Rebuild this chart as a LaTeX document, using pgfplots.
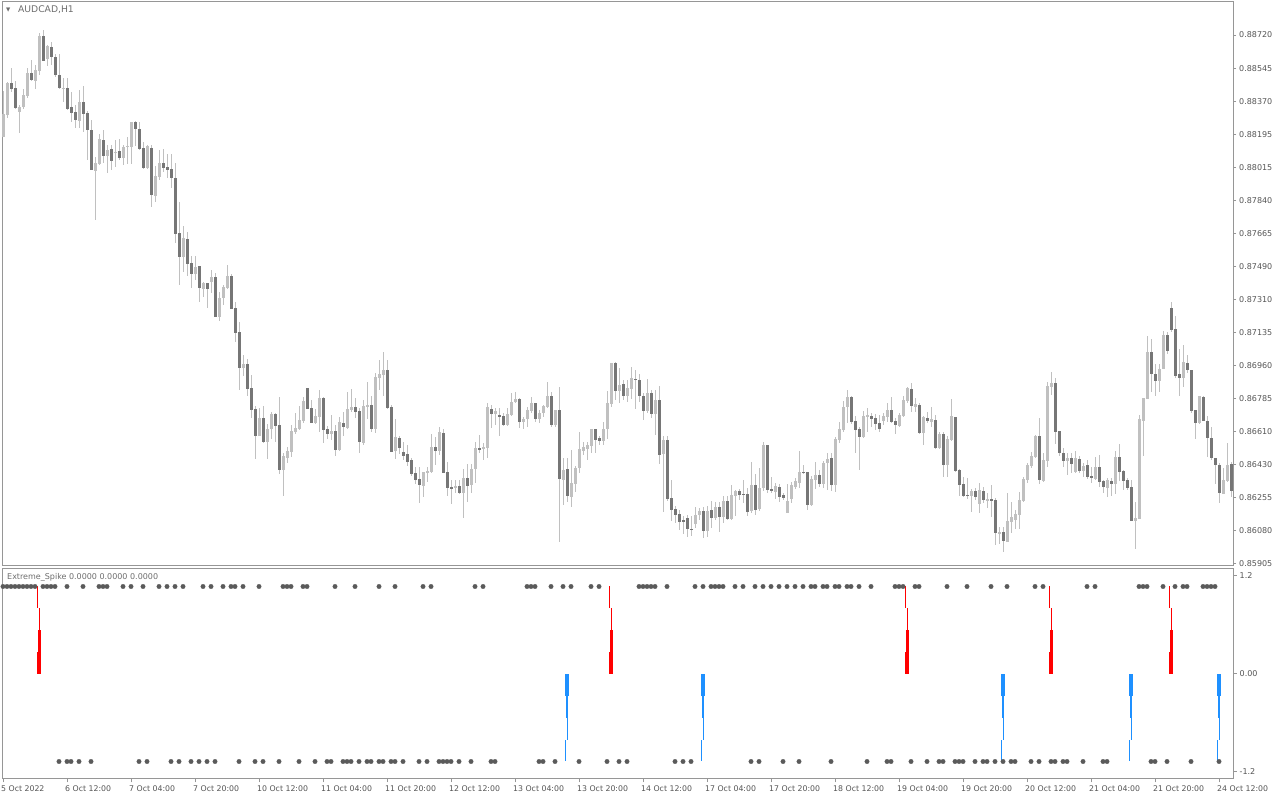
\documentclass[border=0pt]{standalone}
\usepackage{fontspec}
\setmainfont{DejaVu Sans}
\usepackage{pgfplots}
\usepackage{pgfplotstable}
\pgfplotsset{compat=1.18}

\definecolor{frame}{RGB}{150,150,150}
\definecolor{lbl}{RGB}{85,85,85}
\definecolor{ttl}{RGB}{110,110,110}
\definecolor{bull}{RGB}{192,192,192}
\definecolor{bear}{RGB}{118,118,118}
\definecolor{wick}{RGB}{192,192,192}
\definecolor{dotc}{RGB}{90,90,90}
\definecolor{spkred}{RGB}{255,0,0}
\definecolor{spkblue}{RGB}{30,144,255}

% AUDCAD H1, prices in points (1e-5)
\pgfplotstableread{
i o h l c
0 88177 88425 88177 88302
1 88297 88471 88278 88465
2 88465 88548 88416 88434
3 88440 88474 88324 88330
4 88311 88351 88201 88339
5 88339 88434 88324 88401
6 88397 88544 88383 88520
7 88520 88590 88474 88484
8 88476 88562 88434 88535
9 88529 88731 88508 88718
10 88718 88746 88581 88585
11 88590 88669 88553 88660
12 88658 88687 88562 88604
13 88604 88618 88498 88508
14 88508 88618 88434 88440
15 88436 88489 88361 88440
16 88440 88493 88321 88328
17 88337 88416 88255 88306
18 88311 88348 88227 88269
19 88264 88425 88227 88364
20 88364 88449 88205 88302
21 88306 88315 88053 88218
22 88214 88269 88003 88003
23 87999 88071 87737 88040
24 88036 88195 88031 88168
25 88162 88214 88040 88077
26 88077 88132 87988 88110
27 88113 88137 87999 88049
28 88091 88162 88021 88100
29 88104 88168 88058 88067
30 88067 88137 88031 88126
31 88123 88177 88036 88132
32 88126 88258 88036 88258
33 88258 88264 88132 88222
34 88219 88256 88110 88113
35 88119 88153 88009 88012
36 88012 88137 88009 88129
37 88119 88137 87805 87871
38 87866 88021 87834 87970
39 87967 88107 87948 88040
40 88040 88113 87994 88012
41 88018 88090 87958 88003
42 88007 88086 87908 87958
43 87958 88040 87612 87664
44 87668 87829 87392 87541
45 87541 87704 87462 87640
46 87635 87669 87435 87504
47 87508 87545 87376 87449
48 87449 87545 87416 87486
49 87491 87491 87297 87376
50 87371 87407 87325 87402
51 87402 87402 87269 87371
52 87407 87470 87346 87434
53 87434 87452 87221 87221
54 87221 87354 87200 87322
55 87319 87390 87283 87381
56 87372 87496 87367 87438
57 87438 87448 87260 87262
58 87266 87301 87088 87136
59 87140 87193 86831 86949
60 86949 87017 86905 86969
61 86969 86996 86800 86838
62 86841 86911 86683 86724
63 86730 86745 86463 86587
64 86587 86733 86586 86682
65 86682 86745 86547 86552
66 86555 86650 86463 86623
67 86623 86715 86570 86701
68 86703 86710 86555 86639
69 86644 86795 86382 86405
70 86405 86494 86266 86479
71 86470 86526 86440 86506
72 86502 86644 86476 86612
73 86609 86707 86595 86630
74 86623 86745 86618 86671
75 86666 86795 86653 86772
76 86843 86843 86728 86730
77 86733 86777 86653 86657
78 86657 86728 86650 86692
79 86689 86831 86609 86790
80 86790 86795 86547 86618
81 86623 86641 86570 86596
82 86596 86698 86564 86612
83 86612 86641 86476 86511
84 86511 86689 86507 86662
85 86657 86712 86587 86635
86 86630 86822 86623 86730
87 86724 86834 86715 86739
88 86739 86790 86680 86715
89 86719 86733 86494 86555
90 86547 86777 86538 86745
91 86742 86875 86675 86752
92 86751 86800 86609 86623
93 86623 86920 86603 86902
94 86896 86990 86831 86916
95 86911 87035 86800 86937
96 86937 86990 86728 86736
97 86742 86751 86499 86502
98 86506 86676 86461 86582
99 86577 86586 86490 86523
100 86502 86555 86458 86481
101 86490 86538 86428 86449
102 86458 86467 86374 86383
103 86390 86422 86329 86351
104 86357 86419 86227 86325
105 86321 86392 86262 86392
106 86387 86419 86342 86399
107 86396 86596 86390 86529
108 86529 86582 86431 86506
109 86507 86635 86484 86605
110 86600 86626 86387 86390
111 86394 86449 86268 86310
112 86315 86351 86222 86304
113 86310 86351 86281 86321
114 86319 86351 86276 86281
115 86281 86409 86147 86364
116 86364 86437 86236 86321
117 86325 86437 86281 86410
118 86409 86555 86334 86523
119 86523 86591 86497 86511
120 86516 86547 86458 86529
121 86523 86763 86470 86739
122 86730 86751 86630 86703
123 86703 86733 86644 86719
124 86698 86733 86586 86692
125 86692 86707 86641 86644
126 86644 86733 86639 86703
127 86698 86813 86689 86767
128 86767 86822 86760 86783
129 86783 86786 86630 86662
130 86662 86686 86621 86678
131 86675 86742 86635 86724
132 86720 86795 86707 86763
133 86763 86763 86662 86678
134 86676 86724 86653 86710
135 86707 86751 86687 86745
136 86742 86875 86736 86799
137 86799 86822 86632 86644
138 86644 86724 86635 86724
139 86724 86848 86023 86357
140 86351 86467 86218 86405
141 86410 86467 86236 86268
142 86262 86511 86209 86334
143 86329 86426 86289 86415
144 86415 86609 86387 86516
145 86505 86555 86484 86526
146 86516 86555 86458 86538
147 86532 86623 86497 86623
148 86623 86623 86497 86564
149 86577 86586 86538 86561
150 86559 86662 86538 86623
151 86623 86827 86570 86760
152 86756 86976 86739 86976
153 86976 86981 86777 86825
154 86825 86946 86760 86857
155 86862 86884 86777 86800
156 86800 86884 86765 86840
157 86836 86955 86783 86893
158 86889 86937 86730 86885
159 86884 86916 86768 86795
160 86800 86813 86671 86719
161 86719 86889 86710 86813
162 86816 86831 86683 86703
163 86703 86831 86591 86777
164 86777 86852 86437 86484
165 86490 86586 86183 86564
166 86564 86586 86241 86249
167 86254 86351 86135 86192
168 86197 86214 86124 86165
169 86170 86192 86085 86129
170 86138 86160 86064 86126
171 86147 86165 86050 86091
172 86091 86160 86054 86087
173 86117 86206 86094 86165
174 86163 86203 86138 86187
175 86187 86209 86041 86080
176 86080 86213 86050 86187
177 86192 86240 86094 86151
178 86151 86236 86138 86209
179 86209 86236 86076 86153
180 86156 86268 86124 86240
181 86240 86268 86138 86144
182 86144 86325 86138 86272
183 86268 86298 86160 86293
184 86293 86304 86245 86272
185 86279 86351 86231 86274
186 86277 86310 86160 86181
187 86187 86446 86175 86325
188 86325 86383 86165 86192
189 86197 86415 86188 86310
190 86310 86552 86294 86538
191 86538 86538 86281 86298
192 86304 86369 86281 86293
193 86289 86334 86250 86320
194 86316 86330 86233 86262
195 86268 86281 86245 86257
196 86176 86330 86176 86240
197 86250 86342 86227 86325
198 86316 86361 86304 86346
199 86337 86506 86307 86396
200 86396 86431 86383 86389
201 86396 86396 86192 86218
202 86218 86374 86213 86357
203 86351 86446 86307 86378
204 86378 86405 86316 86330
205 86330 86454 86307 86444
206 86441 86497 86298 86463
207 86470 86494 86293 86325
208 86325 86582 86289 86570
209 86564 86662 86547 86623
210 86618 86773 86609 86739
211 86739 86831 86657 86795
212 86795 86800 86648 86662
213 86666 86692 86494 86621
214 86623 86635 86405 86582
215 86582 86720 86573 86692
216 86689 86733 86609 86698
217 86692 86707 86635 86676
218 86680 86703 86618 86650
219 86653 86698 86609 86623
220 86666 86707 86644 86692
221 86687 86763 86662 86724
222 86724 86795 86653 86662
223 86666 86683 86596 86644
224 86641 86707 86632 86698
225 86692 86800 86685 86777
226 86772 86848 86763 86840
227 86836 86870 86715 86747
228 86742 86786 86715 86756
229 86751 86763 86596 86603
230 86603 86692 86538 86685
231 86685 86715 86653 86666
232 86662 86739 86635 86676
233 86671 86698 86516 86520
234 86520 86605 86515 86596
235 86596 86605 86369 86431
236 86431 86586 86369 86570
237 86564 86783 86561 86692
238 86685 86689 86396 86399
239 86405 86409 86268 86325
240 86330 86369 86262 86268
241 86272 86364 86250 86268
242 86268 86302 86180 86293
243 86293 86307 86245 86262
244 86222 86334 86175 86298
245 86293 86316 86231 86245
246 86245 86281 86201 86250
247 86250 86325 86156 86245
248 86248 86254 86006 86068
249 86064 86103 86011 86076
250 86076 86103 85970 86028
251 86023 86281 86020 86133
252 86126 86236 86067 86156
253 86142 86192 86091 86169
254 86163 86286 86089 86245
255 86241 86369 86233 86357
256 86351 86444 86337 86431
257 86428 86499 86414 86481
258 86476 86591 86467 86586
259 86586 86680 86330 86351
260 86347 86494 86342 86458
261 86454 86875 86422 86852
262 86848 86928 86804 86866
263 86866 86893 86543 86609
264 86612 86612 86481 86494
265 86497 86520 86422 86454
266 86454 86497 86378 86470
267 86467 86497 86387 86435
268 86396 86506 86387 86467
269 86463 86479 86390 86399
270 86399 86441 86369 86428
271 86431 86458 86356 86369
272 86372 86422 86334 86364
273 86357 86476 86351 86422
274 86422 86484 86316 86342
275 86346 86351 86281 86316
276 86310 86361 86259 86351
277 86346 86361 86268 86330
278 86329 86506 86277 86476
279 86476 86543 86348 86396
280 86399 86405 86298 86348
281 86351 86361 86298 86310
282 86316 86351 86135 86135
283 86135 86236 85982 86151
284 86142 86698 86142 86676
285 86667 86790 86481 86790
286 86783 87120 86783 87035
287 87035 87102 86822 86914
288 86916 86969 86800 86880
289 86880 86969 86822 86943
290 86943 87146 86943 87124
291 87124 87141 87022 87040
292 87269 87298 87141 87150
293 87156 87224 86893 86905
294 86916 87047 86800 86893
295 86893 87070 86845 86981
296 86976 87017 86923 86937
297 86937 86937 86710 86720
298 86724 86724 86573 86653
299 86653 86799 86650 86799
300 86795 86799 86667 86667
301 86667 86692 86476 86573
302 86573 86635 86458 86467
303 86467 86467 86329 86431
304 86431 86441 86230 86281
305 86277 86414 86277 86351
306 86347 86547 86342 86431
307 86437 86446 86262 86293
}\candles

% spike bars: v = +1 up (red), -1 down (blue)
\pgfplotstableread{
i v
9 1
152 1
226 1
262 1
292 1
}\redsp

\pgfplotstableread{
i v
141 -1
175 -1
250 -1
282 -1
304 -1
}\bluesp

\pgfplotsset{
  seg/.style 2 args={draw=none, mark=none, forget plot,
    error bars/.cd, y dir=both, y explicit, error mark=none,
    error bar style={draw=#1, line width=#2}},
  lblfont/.style={font=\fontsize{8bp}{9bp}\selectfont, text=lbl},
}

\begin{document}
\begin{tikzpicture}
\fill[white] (0bp,0bp) rectangle (1280bp,800bp);

% price panel
\begin{axis}[
  at={(2bp,234bp)}, anchor=south west, scale only axis,
  width=1231bp, height=564bp,
  xmin=-0.25, xmax=307.5, ymin=85893, ymax=88896,
  axis line style={draw=frame, line width=1bp},
  xtick=\empty,
  ytick={88720,88544.06,88368.12,88192.19,88016.25,87840.31,87664.37,87488.44,87312.5,87136.56,86960.62,86784.69,86608.75,86432.81,86256.87,86080.94,85905},
  yticklabels={0.88720,0.88545,0.88370,0.88195,0.88015,0.87840,0.87665,0.87490,0.87310,0.87135,0.86960,0.86785,0.86610,0.86430,0.86255,0.86080,0.85905},
  ytick pos=right, tick align=outside, major tick length=3bp,
  tick style={draw=frame, line width=1bp},
  yticklabel style={lblfont, anchor=west, inner sep=0pt, xshift=3bp},
]
\addplot[seg={wick}{1bp}] table[x=i, y expr={(\thisrow{h}+\thisrow{l})/2},
  y error expr={(\thisrow{h}-\thisrow{l})/2}] {\candles};
\addplot[restrict y to domain=80000:95000, seg={bull}{3bp}] table[x=i,
  y expr={\thisrow{c}<\thisrow{o} ? 0 : (\thisrow{o}+\thisrow{c})/2},
  y error expr={max(abs(\thisrow{c}-\thisrow{o})/2,2.7)}] {\candles};
\addplot[restrict y to domain=80000:95000, seg={bear}{3bp}] table[x=i,
  y expr={\thisrow{c}<\thisrow{o} ? (\thisrow{o}+\thisrow{c})/2 : 0},
  y error expr={max(abs(\thisrow{c}-\thisrow{o})/2,2.7)}] {\candles};
\end{axis}

% indicator panel
\begin{axis}[
  at={(2bp,21bp)}, anchor=south west, scale only axis,
  width=1231bp, height=210bp,
  xmin=-0.25, xmax=307.5, ymin=-1.2, ymax=1.2,
  axis line style={draw=frame, line width=1bp},
  xtick={0,16,...,304},
  xticklabels={5 Oct 2022,6 Oct 12:00,7 Oct 04:00,7 Oct 20:00,10 Oct 12:00,11 Oct 04:00,11 Oct 20:00,12 Oct 12:00,13 Oct 04:00,13 Oct 20:00,14 Oct 12:00,17 Oct 04:00,17 Oct 20:00,18 Oct 12:00,19 Oct 04:00,19 Oct 20:00,20 Oct 12:00,21 Oct 04:00,21 Oct 20:00,24 Oct 12:00},
  ytick={-1.12,0,1.12}, yticklabels={-1.2,0.00,1.2},
  xtick pos=lower, ytick pos=right, tick align=outside,
  major tick length=3.5bp,
  tick style={draw=frame, line width=1bp},
  yticklabel style={lblfont, anchor=west, inner sep=0pt, xshift=3bp},
  xticklabel style={font=\fontsize{7.8bp}{9bp}\selectfont, text=lbl, anchor=north west, inner sep=0pt, xshift=-2bp, yshift=-3bp},
]
\addplot[only marks, mark=*, mark size=2.2bp, color=dotc, forget plot] coordinates {
(0,1)(1,1)(2,1)(3,1)(4,1)(5,1)(6,1)(7,1)(8,1)(10,1)(11,1)(12,1)(13,1)
(16,1)(20,1)(24,1)(25,1)(26,1)(30,1)(32,1)(35,1)(39,1)(41,1)(43,1)(45,1)
(50,1)(52,1)(55,1)(57,1)(58,1)(60,1)(64,1)(70,1)(71,1)(72,1)(75,1)(76,1)
(83,1)(88,1)(94,1)(98,1)(105,1)(107,1)(118,1)(120,1)(131,1)(132,1)(133,1)
(137,1)(140,1)(142,1)(147,1)(149,1)(159,1)(160,1)(161,1)(162,1)(163,1)
(166,1)(173,1)(175,1)(177,1)(178,1)(179,1)(180,1)(183,1)(185,1)(188,1)
(190,1)(192,1)(194,1)(196,1)(198,1)(200,1)(202,1)(203,1)(205,1)(206,1)
(208,1)(209,1)(211,1)(212,1)(214,1)(217,1)(223,1)(224,1)(225,1)(228,1)
(229,1)(236,1)(241,1)(247,1)(251,1)(258,1)(260,1)(271,1)(273,1)(284,1)
(285,1)(286,1)(290,1)(293,1)(295,1)(296,1)(300,1)(301,1)(302,1)(303,1)
};
\addplot[only marks, mark=*, mark size=2.2bp, color=dotc, forget plot] coordinates {
(14,-1)(16,-1)(17,-1)(19,-1)(22,-1)(34,-1)(36,-1)(42,-1)(44,-1)(47,-1)
(49,-1)(51,-1)(53,-1)(59,-1)(63,-1)(65,-1)(69,-1)(74,-1)(78,-1)(81,-1)
(82,-1)(85,-1)(86,-1)(87,-1)(89,-1)(91,-1)(92,-1)(94,-1)(95,-1)(97,-1)
(98,-1)(100,-1)(104,-1)(106,-1)(109,-1)(110,-1)(111,-1)(112,-1)(114,-1)
(117,-1)(122,-1)(123,-1)(134,-1)(135,-1)(138,-1)(144,-1)(151,-1)(154,-1)
(156,-1)(168,-1)(170,-1)(172,-1)(187,-1)(189,-1)(195,-1)(199,-1)(207,-1)
(216,-1)(221,-1)(222,-1)(227,-1)(231,-1)(234,-1)(235,-1)(238,-1)(239,-1)
(240,-1)(243,-1)(245,-1)(246,-1)(248,-1)(250,-1)(252,-1)(253,-1)(257,-1)
(259,-1)(262,-1)(263,-1)(265,-1)(266,-1)(270,-1)(275,-1)(276,-1)(287,-1)
(288,-1)(291,-1)(297,-1)(304,-1)
};
% spike histograms, four stacked segments each
\addplot[seg={spkred}{1bp}] table[x expr={\thisrow{i}-0.43}, y expr={0.875*\thisrow{v}}, y error expr={0.125}] {\redsp};
\addplot[seg={spkred}{1bp}] table[x expr={\thisrow{i}+0.15}, y expr={0.625*\thisrow{v}}, y error expr={0.125}] {\redsp};
\addplot[seg={spkred}{2.7bp}] table[x expr={\thisrow{i}+0.15}, y expr={0.375*\thisrow{v}}, y error expr={0.125}] {\redsp};
\addplot[seg={spkred}{4.3bp}] table[x expr={\thisrow{i}-0.05}, y expr={0.125*\thisrow{v}}, y error expr={0.125}] {\redsp};
\addplot[seg={spkblue}{1bp}] table[x expr={\thisrow{i}-0.43}, y expr={0.875*\thisrow{v}}, y error expr={0.125}] {\bluesp};
\addplot[seg={spkblue}{1bp}] table[x expr={\thisrow{i}+0.07}, y expr={0.625*\thisrow{v}}, y error expr={0.125}] {\bluesp};
\addplot[seg={spkblue}{2.5bp}] table[x expr={\thisrow{i}-0.05}, y expr={0.375*\thisrow{v}}, y error expr={0.125}] {\bluesp};
\addplot[seg={spkblue}{3.8bp}] table[x expr={\thisrow{i}-0.1}, y expr={0.125*\thisrow{v}}, y error expr={0.125}] {\bluesp};
\end{axis}

\node[anchor=west, inner sep=0pt, text=ttl, font=\fontsize{5.5bp}{6bp}\selectfont] at (6bp,790bp) {▼};
\node[anchor=west, inner sep=0pt, text=ttl, font=\fontsize{9.2bp}{10bp}\selectfont] at (18bp,790bp) {AUDCAD,H1};
\node[anchor=west, inner sep=0pt, text=ttl, font=\fontsize{8bp}{9bp}\selectfont] at (7bp,223bp) {Extreme\_Spike 0.0000 0.0000 0.0000};

\pgfresetboundingbox
\useasboundingbox (0bp,0bp) rectangle (1280bp,800bp);
\end{tikzpicture}
\end{document}
